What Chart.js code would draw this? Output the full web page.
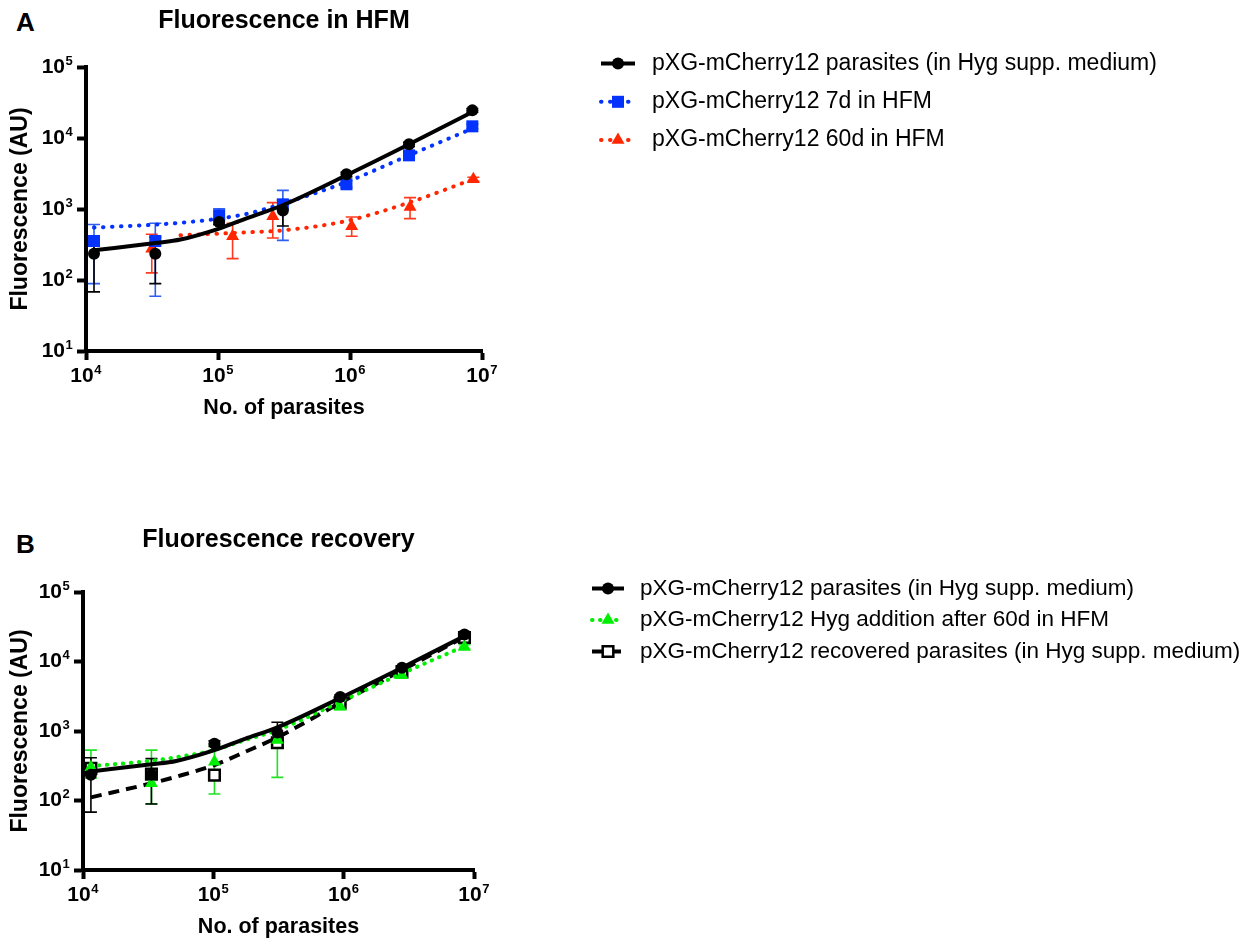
<!DOCTYPE html>
<html><head><meta charset="utf-8">
<script src="https://cdn.jsdelivr.net/npm/chart.js@4.4.1/dist/chart.umd.min.js"></script>
<style>
html,body{margin:0;padding:0;background:#fff;}
#wrap{position:relative;width:1247px;height:940px;font-family:"Liberation Sans",Arial,Helvetica,sans-serif;}
canvas{position:absolute;left:0;}
.letter{position:absolute;left:16px;font-weight:bold;font-size:26px;line-height:1;color:#000;}
</style></head><body>
<div id="wrap">
<div class="letter" style="top:9px">A</div>
<div class="letter" style="top:531px">B</div>
<canvas id="cA" width="1247" height="470" style="top:0"></canvas>
<canvas id="cB" width="1247" height="470" style="top:470px"></canvas>
</div>
<script>
// ---------- data ----------
const xTickVals = [1e4, 1e5, 1e6, 1e7];
const xTickExp  = ['4', '5', '6', '7'];
const yTickVals = [10, 100, 1000, 10000, 100000];
const yTickExp  = ['1', '2', '3', '4', '5'];
const tickBase  = '10';

// parasite numbers (serial dilutions)
const xMain = [1.15e4, 3.35e4, 1.02e5, 3.1e5, 9.4e5, 2.8e6, 8.45e6];
const x60d  = [3.15e4, 1.29e5, 2.6e5, 1.03e6, 2.85e6, 8.6e6];

// pXG-mCherry12 parasites (in Hyg supp. medium)
const hygVal  = [235, 235, 656, 955, 3080, 8150, 24500];
const hygLow  = [68, 89, 600, 575, 2850, 7600, 23000];
const hygHigh = [413, 400, 720, 1335, 3300, 8700, 26000];
// 7d in HFM
const d7Val  = [354, 354, 815, 1163, 2230, 5700, 14600];
const d7Low  = [89, 59, 620, 362, 2000, 5300, 13500];
const d7High = [605, 630, 1010, 1830, 2500, 6100, 15700];
// 60d in HFM
const d60Val  = [275, 413, 790, 570, 1067, 2620];
const d60Low  = [126, 200, 391, 413, 733, 2450];
const d60High = [440, 630, 1230, 771, 1445, 2800];
// Hyg addition after 60d in HFM
const addVal  = [300, 177, 361, 740, 2230, 6350, 16200];
const addLow  = [210, 90, 124, 215, 2050, 5900, 15000];
const addHigh = [531, 531, 640, 1000, 2450, 6800, 17500];
// recovered parasites
const recVal  = [290, 240, 232, 677, 2540, 7080, 22100];
const recLow  = [262, 215, 212, 620, 2400, 6700, 21000];
const recHigh = [320, 265, 252, 740, 2700, 7500, 23300];

// fitted curves
const fitX   = [1.15e4, 3.35e4, 5.2e4, 1.02e5, 1.75e5, 3.1e5, 9.4e5, 2.8e6, 8.45e6];
const hygFit = [262, 332, 371, 530, 771, 1130, 2985, 8150, 23200];
const d7Fit  = [547, 603, 640, 733, 875, 1190, 2400, 5700, 13560];
const d60Fit = [null, null, 427, 450, 472, 500, 678, 1230, 2600];
const addFit = [313, 373, 420, 531, 740, 1030, 2630, 6710, 16600];
const recFit = [111, 177, 220, 324, 500, 810, 2540, 7500, 22600];

const legendA = ['pXG-mCherry12 parasites (in Hyg supp. medium)', 'pXG-mCherry12 7d in HFM', 'pXG-mCherry12 60d in HFM'];
const legendB = ['pXG-mCherry12 parasites (in Hyg supp. medium)', 'pXG-mCherry12 Hyg addition after 60d in HFM', 'pXG-mCherry12 recovered parasites (in Hyg supp. medium)'];

// ---------- helpers ----------
const FONT = '"Liberation Sans", Arial, Helvetica, sans-serif';
Chart.defaults.font.family = FONT;
Chart.defaults.color = '#000';
const pts = (xs, ys) => xs.map((x, i) => ({x: x, y: ys[i]}));

const BLACK = '#000000', BLUE = '#0433ff', BLUE_E = '#2f5ff0', RED = '#ff2600', RED_E = '#ff3a1e', GREEN = '#00ee00', GREEN_E = '#22e022';
const TICK_SIZE = 21, EXP_SIZE = 13, TICK_LEN = 9, X_PAD = 4, Y_PAD = 12, X_SHIFT = -4, EXP_RAISE = 6;

function pointSet(xs, ys, lo, hi, style, color, errColor, radius, order, extra) {
  return Object.assign({
    data: pts(xs, ys), showLine: false, pointStyle: style, pointRadius: radius, pointHoverRadius: radius,
    pointBackgroundColor: color, pointBorderColor: color, pointBorderWidth: 0,
    errLow: lo, errHigh: hi, errColor: errColor, order: order, clip: false
  }, extra || {});
}
function fitSet(ys, color, dash, cap, order) {
  return {
    data: pts(fitX, ys), showLine: true, pointRadius: 0, pointHoverRadius: 0,
    borderColor: color, borderWidth: 4, borderDash: dash, borderCapStyle: cap,
    cubicInterpolationMode: 'monotone', spanGaps: false, fill: false, order: order, clip: false
  };
}

const errPlugin = {
  id: 'errBars',
  beforeDatasetsDraw(chart) {
    const ctx = chart.ctx, xs = chart.scales.x, ys = chart.scales.y;
    chart.data.datasets.slice().reverse().forEach(ds => {
      if (!ds.errLow) return;
      ctx.save();
      ctx.strokeStyle = ds.errColor; ctx.lineWidth = 1.6;
      ds.data.forEach((p, i) => {
        const px = xs.getPixelForValue(p.x);
        const yl = ys.getPixelForValue(ds.errLow[i]);
        const yh = ys.getPixelForValue(ds.errHigh[i]);
        ctx.beginPath();
        ctx.moveTo(px, yl); ctx.lineTo(px, yh);
        ctx.moveTo(px - 6, yl); ctx.lineTo(px + 6, yl);
        ctx.moveTo(px - 6, yh); ctx.lineTo(px + 6, yh);
        ctx.stroke();
      });
      ctx.restore();
    });
  }
};

// draws the exponent of each decade tick label next to the library's "10"
const expPlugin = {
  id: 'tickExponents',
  afterDraw(chart) {
    const ctx = chart.ctx;
    ctx.save();
    ctx.fillStyle = '#000';
    ctx.textBaseline = 'middle'; ctx.textAlign = 'left';
    ctx.font = 'bold ' + TICK_SIZE + 'px ' + FONT;
    const wBase = ctx.measureText(tickBase).width;
    ctx.font = 'bold ' + EXP_SIZE + 'px ' + FONT;
    const xs = chart.scales.x, ys = chart.scales.y;
    const labelY = xs.top + TICK_LEN + X_PAD + TICK_SIZE * 1.2 / 2;
    xTickVals.forEach((v, i) => {
      const px = xs.getPixelForValue(v) + X_SHIFT;
      ctx.fillText(xTickExp[i], px + wBase / 2 + 0.5, labelY - EXP_RAISE);
    });
    const rightEdge = ys.right - TICK_LEN - Y_PAD;
    yTickVals.forEach((v, i) => {
      const py = ys.getPixelForValue(v);
      ctx.fillText(yTickExp[i], rightEdge + 0.5, py - EXP_RAISE);
    });
    ctx.restore();
  }
};

const legendPlugin = {
  id: 'panelLegend',
  afterDraw(chart, args, opts) {
    const ctx = chart.ctx;
    opts.items.forEach((it, i) => {
      const y = opts.y + i * opts.rowGap;
      const line = chart.data.datasets[it.line];
      const mk = chart.data.datasets[it.marker];
      ctx.save();
      ctx.strokeStyle = line.borderColor; ctx.lineWidth = line.borderWidth;
      ctx.setLineDash(line.borderDash || []); ctx.lineCap = line.borderCapStyle || 'butt';
      ctx.beginPath(); ctx.moveTo(opts.x, y); ctx.lineTo(opts.x + opts.lineLen, y); ctx.stroke();
      ctx.restore();
      ctx.save();
      ctx.fillStyle = mk.pointBackgroundColor; ctx.strokeStyle = mk.pointBorderColor;
      ctx.lineWidth = mk.pointBorderWidth;
      Chart.helpers.drawPoint(ctx, {pointStyle: mk.pointStyle, radius: mk.pointRadius, rotation: 0, borderWidth: mk.pointBorderWidth}, opts.x + opts.lineLen / 2, y);
      ctx.restore();
      ctx.save();
      ctx.fillStyle = '#000'; ctx.font = opts.font; ctx.textBaseline = 'middle'; ctx.textAlign = 'left';
      ctx.fillText(it.text, opts.textX, y);
      ctx.restore();
    });
  }
};

function makeChart(id, g, title, datasets, legend) {
  return new Chart(document.getElementById(id), {
    type: 'scatter',
    data: {datasets: datasets},
    plugins: [errPlugin, expPlugin, legendPlugin],
    options: {
      responsive: false, animation: false, events: [], devicePixelRatio: 1,
      layout: {padding: g.pad},
      plugins: {
        legend: {display: false}, tooltip: {enabled: false},
        title: {display: true, text: title, fullSize: false, font: {size: 25, weight: 'bold'}, padding: g.titlePad, color: '#000'},
        panelLegend: legend
      },
      scales: {
        x: {
          type: 'logarithmic', position: 'bottom', min: 1e4, max: 1e7,
          afterBuildTicks: s => { s.ticks = xTickVals.map(v => ({value: v})); },
          afterFit: s => { s.height = g.xH; },
          ticks: {callback: () => tickBase, font: {size: TICK_SIZE, weight: 'bold'}, color: '#000', padding: X_PAD, labelOffset: X_SHIFT, maxRotation: 0, autoSkip: false},
          grid: {display: true, drawOnChartArea: false, drawTicks: true, tickLength: TICK_LEN, tickWidth: 4, tickColor: '#000'},
          border: {display: true, width: 4, color: '#000'},
          title: {display: true, text: 'No. of parasites', font: {size: 21.5, weight: 'bold'}, color: '#000', padding: {top: 0, bottom: g.xTitlePad}}
        },
        y: {
          type: 'logarithmic', position: 'left', min: 10, max: 1e5,
          afterBuildTicks: s => { s.ticks = yTickVals.map(v => ({value: v})); },
          afterFit: s => { s.width = g.yW; },
          ticks: {callback: () => tickBase, font: {size: TICK_SIZE, weight: 'bold'}, color: '#000', padding: Y_PAD, autoSkip: false},
          grid: {display: true, drawOnChartArea: false, drawTicks: true, tickLength: TICK_LEN, tickWidth: 4, tickColor: '#000'},
          border: {display: true, width: 4, color: '#000'},
          title: {display: true, text: 'Fluorescence (AU)', font: {size: 23, weight: 'bold'}, color: '#000', padding: {top: 7, bottom: 0}}
        }
      }
    }
  });
}

const geomA = {pad: {top: 0, left: 0, right: 765, bottom: 44}, titlePad: {top: 6, bottom: 31}, yW: 86, xH: 75, xTitlePad: 5};
const geomB = {pad: {top: 49, left: 0, right: 773, bottom: 0}, titlePad: {top: 6, bottom: 37}, yW: 83, xH: 70, xTitlePad: 0};

// Panel A
makeChart('cA', geomA, 'Fluorescence in HFM', [
  pointSet(xMain, hygVal, hygLow, hygHigh, 'circle', BLACK, BLACK, 6, 0),
  fitSet(hygFit, BLACK, [], 'butt', 1),
  pointSet(xMain, d7Val, d7Low, d7High, 'rect', BLUE, BLUE_E, 8.5, 2),
  fitSet(d7Fit, BLUE, [0.5, 8.5], 'round', 3),
  pointSet(x60d, d60Val, d60Low, d60High, 'triangle', RED, RED_E, 7.5, 4),
  fitSet(d60Fit, RED, [0.5, 8.5], 'round', 5)
], {x: 601, y: 63.5, rowGap: 38.3, lineLen: 34, textX: 652, font: '23px ' + FONT,
    items: [{line: 1, marker: 0, text: legendA[0]}, {line: 3, marker: 2, text: legendA[1]}, {line: 5, marker: 4, text: legendA[2]}]});

// Panel B
makeChart('cB', geomB, 'Fluorescence recovery', [
  pointSet(xMain, hygVal, hygLow, hygHigh, 'circle', BLACK, BLACK, 6, 0),
  fitSet(hygFit, BLACK, [], 'butt', 1),
  pointSet(xMain, addVal, addLow, addHigh, 'triangle', GREEN, GREEN_E, 7.5, 2),
  fitSet(addFit, GREEN, [0.5, 7.5], 'round', 3),
  pointSet(xMain, recVal, recLow, recHigh, 'rect', '#ffffff', BLACK, 7.5, 4, {pointBorderColor: BLACK, pointBorderWidth: 2.5}),
  fitSet(recFit, BLACK, [11, 7], 'butt', 5)
], {x: 592, y: 118.5, rowGap: 31.5, lineLen: 32, textX: 640, font: '22.5px ' + FONT,
    items: [{line: 1, marker: 0, text: legendB[0]}, {line: 3, marker: 2, text: legendB[1]}, {line: 5, marker: 4, text: legendB[2]}]});
</script>
</body></html>
